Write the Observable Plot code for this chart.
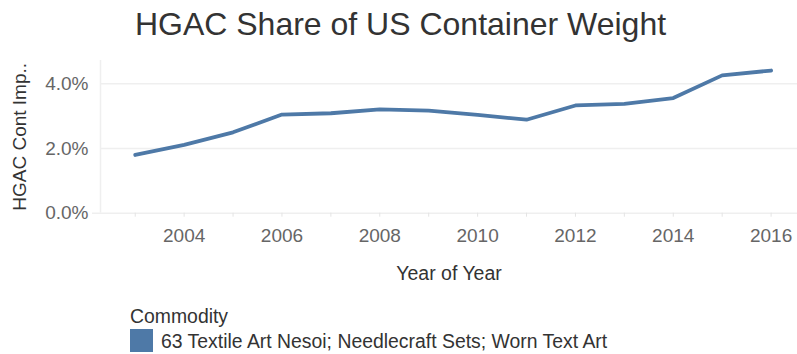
<!DOCTYPE html>
<html>
<head>
<meta charset="utf-8">
<script src="https://cdn.jsdelivr.net/npm/d3@7"></script>
<script src="https://cdn.jsdelivr.net/npm/@observablehq/plot@0.6"></script>
<style>
  body { margin: 0; background: #fff; font-family: "Liberation Sans", Arial, sans-serif; }
  #wrap { width: 797px; height: 354px; position: relative; overflow: hidden; }
  #title { height: 50px; position: relative; }
  #title span { position: absolute; left: 0; right: 0; top: 8px; text-align: center; font-size: 32px; color: #333; line-height: 1; padding-left: 4px; }
  #legend { height: 64px; position: relative; color: #333; }
  #legend .head { position: absolute; left: 130px; top: 17px; font-size: 19.4px; line-height: 1; }
  #legend .sw { position: absolute; left: 130px; top: 39px; width: 23px; height: 23px; }
  #legend .lab { position: absolute; left: 161px; top: 42px; font-size: 19.4px; line-height: 1; }
</style>
</head>
<body>
<div id="wrap">
  <div id="title"><span>HGAC Share of US Container Weight</span></div>
  <div id="chart"></div>
  <div id="legend"></div>
</div>
<script>
const years = [2003, 2004, 2005, 2006, 2007, 2008, 2009, 2010, 2011, 2012, 2013, 2014, 2015, 2016];
const share = [1.80, 2.11, 2.50, 3.05, 3.09, 3.21, 3.17, 3.04, 2.89, 3.33, 3.38, 3.56, 4.26, 4.41];
const yTicks = [0, 2, 4];
const commodity = "63 Textile Art Nesoi; Needlecraft Sets; Worn Text Art";
const legendTitle = "Commodity";
const yLabel = "HGAC Cont Imp..";
const xLabel = "Year of Year";
const lineColor = "#4e79a7";

const data = years.map((y, i) => ({year: y, value: share[i]}));

const chart = Plot.plot({
  width: 797,
  height: 240,
  marginTop: 10,
  marginBottom: 77.3,
  marginLeft: 100,
  marginRight: 0,
  style: {fontFamily: "'Liberation Sans', Arial, sans-serif", fontSize: "19px", background: "#fff", overflow: "visible"},
  x: {domain: [2002.29, 2016.54]},
  y: {domain: [0, 4.72]},
  marks: [
    Plot.ruleY(yTicks.filter(d => d !== 0), {stroke: "#efefef", strokeWidth: 1.5}),
    Plot.ruleY([0], {stroke: "#efefef", strokeWidth: 1.5, insetLeft: -8}),
    Plot.ruleX([2002.29], {stroke: "#efefef", strokeWidth: 1.5}),
    Plot.axisY({ticks: yTicks, tickSize: 0, tickPadding: 12, tickFormat: d => d.toFixed(1) + "%", label: null, color: "#666", fontSize: 19}),
    Plot.axisX({ticks: years, tickSize: 4, tickPadding: 11, tickFormat: d => d % 2 === 0 ? String(d) : "", label: null, color: "#666", stroke: "#e4e4e4", fontSize: 19}),
    Plot.text([yLabel], {frameAnchor: "left", textAnchor: "middle", dx: -81, rotate: -90, fill: "#333", fontSize: 19}),
    Plot.text([xLabel], {frameAnchor: "bottom", dy: 67, fill: "#333", fontSize: 19.5}),
    Plot.line(data, {x: "year", y: "value", stroke: lineColor, strokeWidth: 3.8, strokeLinecap: "round", strokeLinejoin: "round"})
  ]
});
document.getElementById("chart").appendChild(chart);

const leg = document.getElementById("legend");
leg.innerHTML = `<div class="head">${legendTitle}</div><div class="sw" style="background:${lineColor}"></div><div class="lab">${commodity}</div>`;
</script>
</body>
</html>
